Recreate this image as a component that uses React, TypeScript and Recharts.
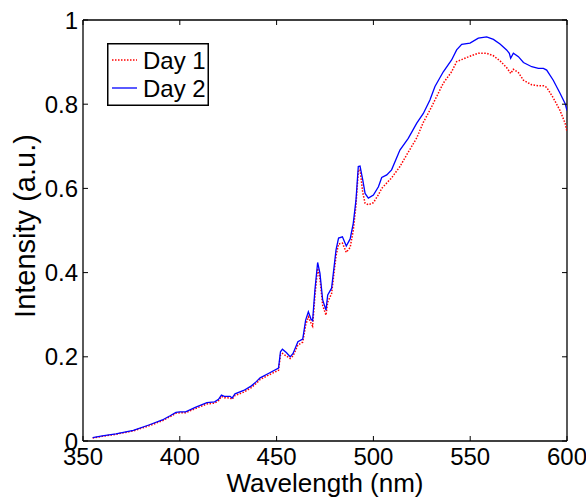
import React from 'react';
import { LineChart, Line, XAxis, YAxis, ReferenceLine, Legend } from 'recharts';

// Wavelength sample points (nm)
const wavelengths = [
  355, 360, 367, 376, 384, 391, 395, 398, 400, 403,
  408, 414, 418, 420, 421.5, 423, 426, 427, 428.5, 433,
  437, 439.5, 441.5, 446, 451, 452, 453, 455, 457, 458.5,
  461, 463.5, 465, 466.4, 467.8, 468.6, 469.8, 471.2, 472.4, 473.8,
  475.5, 476.4, 478.4, 479.3, 480.7, 482, 484, 486, 488, 489.6,
  491, 492.2, 493.1, 494.5, 495.7, 497.4, 500, 502.6, 504.3, 506.9,
  509.4, 513.7, 518, 522.4, 525.8, 529.2, 531.8, 536.1, 540.4, 543,
  545.6, 549.9, 554.2, 558.5, 562, 565.4, 568.8, 570.2, 570.9, 572.3,
  574.9, 577.5, 581.8, 585.2, 587.8, 589.5, 592.9, 596.4, 599, 600,
];

const day1 = [
  0.007, 0.011, 0.016, 0.024, 0.036, 0.048, 0.058, 0.066, 0.067, 0.067,
  0.077, 0.088, 0.090, 0.096, 0.106, 0.103, 0.102, 0.099, 0.108, 0.116,
  0.127, 0.137, 0.146, 0.157, 0.168, 0.204, 0.208, 0.202, 0.196, 0.202,
  0.228, 0.235, 0.275, 0.295, 0.280, 0.273, 0.345, 0.410, 0.385, 0.322,
  0.299, 0.330, 0.350, 0.385, 0.440, 0.468, 0.470, 0.448, 0.460, 0.500,
  0.560, 0.640, 0.645, 0.590, 0.565, 0.561, 0.566, 0.585, 0.600, 0.613,
  0.625, 0.652, 0.686, 0.720, 0.757, 0.786, 0.810, 0.850, 0.877, 0.901,
  0.906, 0.914, 0.921, 0.921, 0.915, 0.903, 0.887, 0.878, 0.873, 0.883,
  0.875, 0.857, 0.846, 0.844, 0.844, 0.840, 0.815, 0.785, 0.755, 0.735,
];

const day2 = [
  0.008, 0.012, 0.017, 0.025, 0.038, 0.050, 0.060, 0.068, 0.069, 0.069,
  0.080, 0.091, 0.093, 0.099, 0.109, 0.106, 0.106, 0.102, 0.112, 0.120,
  0.131, 0.141, 0.150, 0.161, 0.173, 0.212, 0.218, 0.210, 0.200, 0.208,
  0.236, 0.242, 0.287, 0.307, 0.289, 0.286, 0.359, 0.424, 0.398, 0.335,
  0.311, 0.347, 0.363, 0.398, 0.454, 0.482, 0.485, 0.463, 0.480, 0.517,
  0.572, 0.652, 0.653, 0.620, 0.588, 0.577, 0.584, 0.604, 0.626, 0.632,
  0.644, 0.691, 0.719, 0.755, 0.778, 0.810, 0.842, 0.877, 0.905, 0.929,
  0.942, 0.945, 0.957, 0.960, 0.954, 0.943, 0.929, 0.921, 0.909, 0.921,
  0.913, 0.899, 0.889, 0.885, 0.885, 0.881, 0.857, 0.826, 0.802, 0.785,
];

const xTicks = [350, 400, 450, 500, 550, 600];
const yTicks = [0, 0.2, 0.4, 0.6, 0.8, 1];
const seriesNames = ['Day 1', 'Day 2'];
const xLabel = 'Wavelength (nm)';
const yLabel = 'Intensity (a.u.)';

const data = wavelengths.map((w, i) => ({ w, day1: day1[i], day2: day2[i] }));

const FONT = '"Liberation Sans", Arial, Helvetica, sans-serif';
const W = 586;
const H = 497;
const M = { top: 20, right: 19, left: 0, bottom: 0 };
const YW = 83;
const XH = 56;
const PLOT_RIGHT = W - M.right;
const PLOT_TOP = M.top;
const PLOT_LEFT = M.left + YW;
const PLOT_BOTTOM = H - M.bottom - XH;
const TICK = 5;
const RED = '#ff0000';
const BLUE = '#0000ff';

function XTick(props: any) {
  const { x, payload } = props;
  return (
    <g>
      <line x1={x} x2={x} y1={PLOT_BOTTOM} y2={PLOT_BOTTOM - TICK} stroke="#000" strokeWidth={1} />
      <line x1={x} x2={x} y1={PLOT_TOP} y2={PLOT_TOP + TICK} stroke="#000" strokeWidth={1} />
      <text x={x} y={PLOT_BOTTOM + 24} textAnchor="middle" fontSize={24} fontFamily={FONT} fill="#000">
        {String(payload.value)}
      </text>
    </g>
  );
}

function YTick(props: any) {
  const { y, payload } = props;
  return (
    <g>
      <line x1={PLOT_LEFT} x2={PLOT_LEFT + TICK} y1={y} y2={y} stroke="#000" strokeWidth={1} />
      <line x1={PLOT_RIGHT} x2={PLOT_RIGHT - TICK} y1={y} y2={y} stroke="#000" strokeWidth={1} />
      <text x={PLOT_LEFT - 5} y={y + 8.5} textAnchor="end" fontSize={24} fontFamily={FONT} fill="#000">
        {String(payload.value)}
      </text>
    </g>
  );
}

function XLabel() {
  return (
    <text x={(PLOT_LEFT + PLOT_RIGHT) / 2} y={492} textAnchor="middle" fontSize={26} fontFamily={FONT} fill="#000">
      {xLabel}
    </text>
  );
}

function YLabel() {
  const cx = 35;
  const cy = 226;
  return (
    <text
      x={cx}
      y={cy}
      transform={`rotate(-90, ${cx}, ${cy})`}
      textAnchor="middle"
      fontSize={29}
      fontFamily={FONT}
      fill="#000"
    >
      {yLabel}
    </text>
  );
}

function LegendBox() {
  return (
    <svg width={102} height={63} style={{ display: 'block' }}>
      <rect x={0.75} y={0.75} width={100.5} height={61.5} fill="#fff" stroke="#000" strokeWidth={1.5} />
      <line x1={5} x2={30} y1={17} y2={17} stroke={RED} strokeWidth={1.5} strokeDasharray="1.5 1.5" />
      <text x={36} y={25.5} fontSize={24} fontFamily={FONT} fill="#000">{seriesNames[0]}</text>
      <line x1={5} x2={30} y1={45} y2={45} stroke={BLUE} strokeWidth={1.3} />
      <text x={36} y={54} fontSize={24} fontFamily={FONT} fill="#000">{seriesNames[1]}</text>
    </svg>
  );
}

export default function App() {
  return (
    <div style={{ position: 'absolute', left: 0, top: 0, width: W, height: H, background: '#fff' }}>
      <LineChart width={W} height={H} data={data} margin={M}>
        <XAxis
          dataKey="w"
          type="number"
          domain={[350, 600]}
          ticks={xTicks}
          allowDataOverflow
          height={XH}
          tickLine={false}
          tick={<XTick />}
          axisLine={{ stroke: '#000', strokeWidth: 1.3 }}
          label={<XLabel />}
          interval={0}
        />
        <YAxis
          type="number"
          domain={[0, 1]}
          ticks={yTicks}
          allowDataOverflow
          width={YW}
          tickLine={false}
          tick={<YTick />}
          axisLine={{ stroke: '#000', strokeWidth: 1.3 }}
          label={<YLabel />}
          interval={0}
        />
        <ReferenceLine y={1} stroke="#000" strokeWidth={1.3} />
        <ReferenceLine x={600} stroke="#000" strokeWidth={1.3} />
        <Line
          type="linear"
          dataKey="day1"
          name={seriesNames[0]}
          stroke={RED}
          strokeWidth={1.5}
          strokeDasharray="1.5 1.5"
          dot={false}
          isAnimationActive={false}
        />
        <Line
          type="linear"
          dataKey="day2"
          name={seriesNames[1]}
          stroke={BLUE}
          strokeWidth={1.3}
          dot={false}
          isAnimationActive={false}
        />
        <Legend
          layout="vertical"
          align="center"
          verticalAlign="middle"
          content={() => <LegendBox />}
          wrapperStyle={{ position: 'absolute', left: 107, top: 43, width: 102, height: 63, margin: 0, padding: 0 }}
        />
      </LineChart>
    </div>
  );
}
